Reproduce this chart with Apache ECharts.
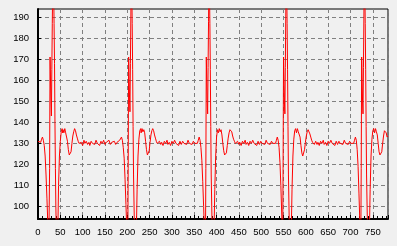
<!DOCTYPE html>
<html><head><meta charset="utf-8">
<script src="https://cdn.jsdelivr.net/npm/echarts@6/dist/echarts.min.js"></script>
<style>html,body{margin:0;padding:0;background:#f0f0f0}#c{width:397px;height:246px}</style>
</head><body><div id="c"></div>
<script>
const yTicks = [100,110,120,130,140,150,160,170,180,190];
const seg1 = [[0,131],[2,131],[4,131.5],[6,130.5],[8,132],[10,133],[12,131.5],[14,129],[16,124],[18,115],[20,104],[22,92],[24,78],[26,118],[27,171],[28,171],[29,150],[30,143],[31,165],[32,187],[33,205],[34,215],[35,205],[36,187],[37,168],[38,140],[39,118],[40,100],[42,78],[44,82],[46,110],[48,124],[50,131],[52,135.5],[54,137],[55,135],[56,136.5],[58,135],[60,137],[62,135],[64,135.5],[66,131],[68,127],[70,124.5],[72,124],[74,126],[76,130],[78,133.5],[80,135.5],[82,137],[84,136],[86,134],[88,132.5],[90,131],[92,130],[94,129.5],[97,130.5],[100,129],[103,131.5],[105,130],[108,131],[111,129.5],[114,130.5],[116,129],[119,131],[122,130],[125,130.5],[127,129.5],[130,131.5],[133,130],[136,130.5],[138,129],[141,131],[144,130],[147,131.5],[150,129.5],[153,130.5],[156,130],[159,131.5],[162,129.5],[165,130.5],[168,130],[171,131],[174,129.5],[177,130.5],[180,130],[183,131.5],[185,132]];
const seg2 = [[187,133],[189,131.5],[191,128],[193,123],[195,113],[197,101],[199,88],[201,78],[202,118],[203,171],[204,171],[205,152],[206,145],[207,168],[208,190],[209,215],[210,205],[211,187],[212,165],[213,138],[214,115],[216,90],[218,78],[220,84],[222,108],[224,124],[226,132],[228,136],[230,137],[231,135],[233,137],[235,135.5],[237,136.5],[239,135],[241,131],[243,127],[245,124.5],[247,124],[249,126.5],[251,130.5],[253,134],[255,136],[257,137],[259,136],[261,134],[263,132.5],[265,131],[267,130],[269,129.5],[272,131],[275,129.5],[277,130.5],[280,129],[283,131],[286,130],[289,131.5],[291,129.5],[294,130.5],[297,129],[300,131],[303,130],[306,131.5],[309,130],[312,130.5],[315,129],[318,131],[321,129.5],[324,131],[327,130],[330,130.5],[333,129.5],[336,131.5],[339,130],[342,130.5],[345,129.5],[348,131],[351,130],[354,130.5],[357,130],[359,131.5]];
const seg3 = [[361,133],[363,131.5],[365,128],[367,122],[369,112],[371,100],[373,87],[375,78],[376,118],[377,171],[378,171],[379,150],[380,144],[381,166],[382,188],[383,215],[384,205],[385,187],[386,165],[387,138],[388,115],[390,90],[392,78],[394,84],[396,108],[398,124],[400,133],[402,136.5],[404,135],[406,137],[408,135.5],[410,136.5],[412,134],[414,130],[416,126.5],[418,124.5],[420,124],[422,125.5],[424,129],[426,132.5],[428,135],[430,136.5],[432,137],[434,135.5],[436,133.5],[438,132],[440,131],[442,130],[444,129.5],[447,131],[450,129.5],[452,130.5],[455,129],[458,131],[461,130],[464,131.5],[466,129.5],[469,130.5],[472,129],[475,131],[478,130],[481,131.5],[484,130],[487,130.5],[490,129],[493,131],[496,129.5],[499,131],[502,130],[505,130.5],[508,129.5],[511,131.5],[514,130],[517,130.5],[520,129.5],[523,131],[526,130],[529,130.5],[532,130],[534,131.5]];
const seg4 = [[536,133],[538,131.5],[540,128],[542,121],[544,110],[546,96],[547,85],[548,78],[549,118],[550,171],[551,171],[552,150],[553,144],[554,166],[555,190],[556,215],[557,205],[558,187],[559,165],[560,138],[561,115],[563,90],[565,78],[567,84],[569,108],[571,124],[573,132],[575,136],[577,137],[579,135],[581,137],[583,135.5],[585,136],[587,133],[589,129],[591,125.5],[593,124],[595,124.5],[597,127],[599,130.5],[601,133.5],[603,135.5],[605,136.5],[607,136],[609,134.5],[611,133],[613,131.5],[615,130.5],[617,130],[619,129.5],[622,131],[625,129.5],[627,130.5],[630,129],[633,131],[636,130],[639,131.5],[641,129.5],[644,130.5],[647,129],[650,131],[653,130],[656,131.5],[659,130],[662,130.5],[665,129],[668,131],[671,129.5],[674,131],[677,130],[680,130.5],[683,129.5],[686,131.5],[689,130],[692,130.5],[695,129.5],[698,131],[701,130],[704,130.5],[707,130],[709,131.5]];
const seg5 = [[711,133],[713,131.5],[715,127],[717,119],[719,106],[721,92],[722,82],[723,78],[724,118],[725,171],[726,171],[727,150],[728,144],[729,166],[730,190],[731,215],[732,205],[733,187],[734,165],[735,138],[736,115],[738,90],[740,78],[742,84],[744,108],[746,124],[748,132],[750,136],[752,137],[754,135],[756,137],[758,135.5],[760,134],[762,130],[764,126],[766,124.5],[768,124],[770,126],[772,130],[774,133.5],[776,136],[778,136.5],[780,135],[782,133],[784,133.5]];
const ecg = seg1.concat(seg2, seg3, seg4, seg5);

const font = "'Liberation Sans Narrow','Liberation Sans',Arial,sans-serif";
const chart = echarts.init(document.getElementById('c'), null, {renderer:'canvas'});
chart.setOption({
  animation:false,
  backgroundColor:'#f0f0f0',
  grid:{left:38,right:9,top:9,bottom:27,show:true,borderColor:'#000',borderWidth:1,backgroundColor:'#f0f0f0'},
  xAxis:{type:'value',min:0,max:784,interval:50,
    axisLine:{show:true,onZero:false,lineStyle:{color:'#000',width:2}},
    axisTick:{show:true,inside:true,length:4,lineStyle:{color:'#000'}},
    minorTick:{show:true,splitNumber:5,length:3,lineStyle:{color:'#000'}},
    axisLabel:{color:'#000',fontSize:9.5,fontFamily:font,margin:8,showMaxLabel:false},
    splitLine:{show:true,lineStyle:{color:'#808080',type:[4,3],width:1}}},
  yAxis:{type:'value',min:94.1,max:193.8,
    axisLine:{show:true,onZero:false,lineStyle:{color:'#000',width:2}},
    axisTick:{show:true,inside:true,length:3,customValues:yTicks,lineStyle:{color:'#000'}},
    axisLabel:{color:'#000',fontSize:9.5,fontFamily:font,margin:9,customValues:yTicks},
    splitLine:{show:true,lineStyle:{color:'#808080',type:[4,3],width:1}}},
  series:[{type:'line',data:ecg,showSymbol:false,clip:true,lineStyle:{color:'#ff0000',width:1}}]
});
</script></body></html>
